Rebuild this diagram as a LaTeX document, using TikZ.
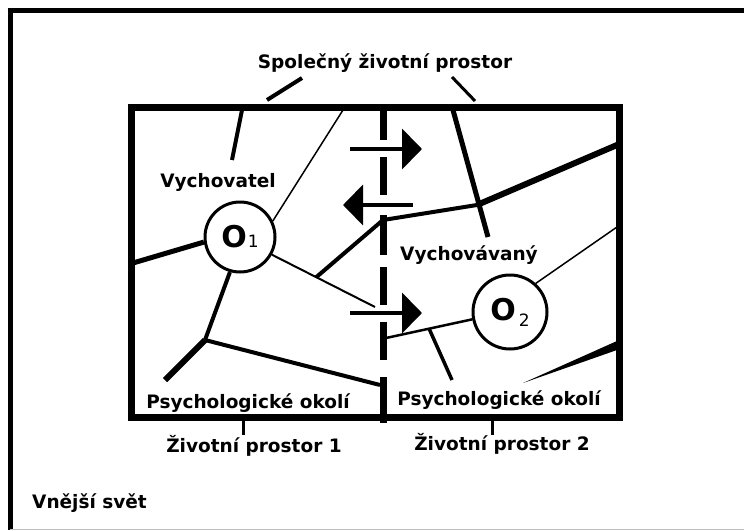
\documentclass[tikz,border=0pt]{standalone}
\usepackage{fontspec}
\setmainfont{DejaVu Sans}
\usetikzlibrary{arrows.meta,positioning}

\begin{document}
\begin{tikzpicture}[x=1pt,y=-1pt,
    lbl/.style={font=\fontsize{18.5}{20}\selectfont\bfseries, inner sep=0pt, anchor=base},
    obj/.style={draw, circle, fill=white, line width=3pt, inner sep=0pt, font=\fontsize{30}{30}\selectfont\bfseries},
    wall/.style={line width=7pt},
    arr/.style={line width=4pt, -{Triangle[length=20pt,width=40pt]}}]
    \useasboundingbox (0,0) rectangle (744,530);
    % vnejsi svet
    \draw[line width=5pt] (10,7.5) -- (10,530);
    \draw[line width=5pt] (7.5,10) -- (744,10);
    \draw[gray!50, line width=1pt] (10,529.5) -- (744,529.5);
    % zivotni prostor
    \draw[wall] (131,107) rectangle (619,417);
    \foreach \a/\b in {104/140,157/195,215/255,267/305,322/360,377/423}
        \draw[line width=7pt] (383,\a) -- (383,\b);
    % popisky
    \node[lbl] (spol) at (385,68) {Společný životní prostor};
    \node[lbl] (vychovatel) at (218,187) {Vychovatel};
    \node[lbl] (vychovavany) at (469,260) {Vychovávaný};
    \node[lbl] (okoli1) at (248,408) {Psychologické okolí};
    \node[lbl] (okoli2) at (499,405) {Psychologické okolí};
    \node[lbl] (prostor1) at (254,452) {Životní prostor 1};
    \node[lbl] (prostor2) at (502,450) {Životní prostor 2};
    \node[lbl, anchor=base west] (svet) at (32,508) {Vnější svět};
    \draw[line width=4pt] (267,100) -- (302,78);
    \draw[line width=3pt] (475,101) -- (452,77);
    \draw[line width=3pt] (243,420) -- (243,435);
    \draw[line width=3pt] (492,420) -- (492,435);
    % osoby
    \node[obj, minimum size=70pt] (o1) at (240,237) {O\kern1pt\raisebox{0pt}{\fontsize{17}{17}\selectfont\mdseries 1}};
    \node[obj, minimum size=74pt] (o2) at (510,312) {O\kern3pt\raisebox{-6pt}{\fontsize{17}{17}\selectfont\mdseries 2}};
    % hranice v poli
    \draw[line width=4pt] (242,110) -- (232,160);
    \draw[line width=1.5pt] (343,110) -- (o1.26);
    \draw[line width=5pt] (133,263) -- (o1.188);
    \draw[line width=2pt] (o1.-29) -- coordinate[pos=.43] (k) (375,307);
    \draw[line width=4pt] (k) -- (383,220) -- (477,205) coordinate (x1);
    \draw[line width=6pt] (x1) -- (617,145);
    \draw[line width=5pt] (453,110) -- (488,237);
    \draw[line width=4pt] (o1.-106) -- (205,340) coordinate (v);
    \draw[line width=6pt] (v) -- (165,380);
    \draw[line width=4pt] (v) -- (380,385);
    \draw[line width=1.5pt] (o2.48) -- (617,227);
    \draw[line width=2.5pt] (386,338) -- coordinate[pos=.5] (w) (o2.191);
    \draw[line width=3.5pt] (w) -- (452,380);
    \fill (523,383) -- (617,341) -- (617,350) -- cycle;
    % sipky
    \draw[arr] (350,149) -- (422,149);
    \draw[arr] (413,205) -- (343,205);
    \draw[arr] (350,313) -- (422,313);
\end{tikzpicture}
\end{document}
